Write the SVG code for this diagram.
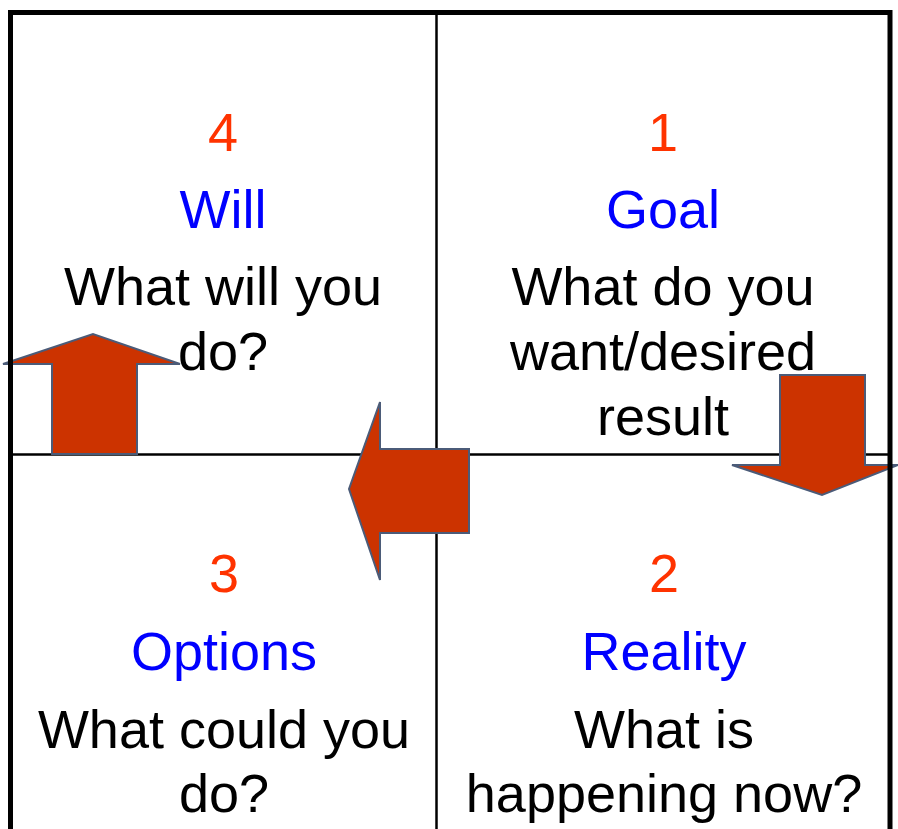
<svg xmlns="http://www.w3.org/2000/svg" width="898" height="829" viewBox="0 0 898 829">
  <style>
    text { font-family: "Liberation Sans", Arial, sans-serif; font-size: 54px; text-anchor: middle; }
    .num { fill: #ff3300; }
    .title { fill: #0000ff; }
    .body { fill: #000000; }
    .grid { stroke: #000000; stroke-width: 2.5; fill: none; }
    .frame { stroke: #000000; stroke-width: 5; fill: none; }
    .arrow { fill: #cc3300; stroke: #4b5b78; stroke-width: 2; stroke-linejoin: miter; }
  </style>
  <rect width="898" height="829" fill="#ffffff"/>

  <!-- quadrant dividers -->
  <g id="grid">
    <line class="grid" x1="436.5" y1="12" x2="436.5" y2="829"/>
    <line class="grid" x1="10" y1="454.5" x2="890" y2="454.5"/>
  </g>

  <!-- quadrant 4: Will -->
  <g id="will">
    <text class="num" x="223" y="151">4</text>
    <text class="title" x="223" y="228">Will</text>
    <text class="body" x="223" y="305">What will you</text>
    <text class="body" x="223" y="370">do?</text>
  </g>

  <!-- quadrant 1: Goal -->
  <g id="goal">
    <text class="num" x="663" y="151">1</text>
    <text class="title" x="663" y="228">Goal</text>
    <text class="body" x="663" y="305">What do you</text>
    <text class="body" x="663" y="370">want/desired</text>
    <text class="body" x="663" y="435">result</text>
  </g>

  <!-- quadrant 3: Options -->
  <g id="options">
    <text class="num" x="224" y="592">3</text>
    <text class="title" x="224" y="670">Options</text>
    <text class="body" x="224" y="748">What could you</text>
    <text class="body" x="224" y="812">do?</text>
  </g>

  <!-- quadrant 2: Reality -->
  <g id="reality">
    <text class="num" x="664" y="592">2</text>
    <text class="title" x="664" y="670">Reality</text>
    <text class="body" x="664" y="748">What is</text>
    <text class="body" x="664" y="812">happening now?</text>
  </g>

  <!-- block arrows cycling through the quadrants -->
  <g id="connectors">
    <polygon class="arrow" points="780,375 865,375 865,465 898,465 822,495 732,465 780,465"/>
    <polygon class="arrow" points="469,449 469,533 380,533 380,580 349,489 380,402 380,449"/>
    <polygon class="arrow" points="137,454 52,454 52,364 3,364 93,334 180,364 137,364"/>
  </g>

  <!-- outer frame -->
  <g id="frame">
    <polyline class="frame" points="10.5,840 10.5,12.5 890,12.5 890,840"/>
  </g>
</svg>
